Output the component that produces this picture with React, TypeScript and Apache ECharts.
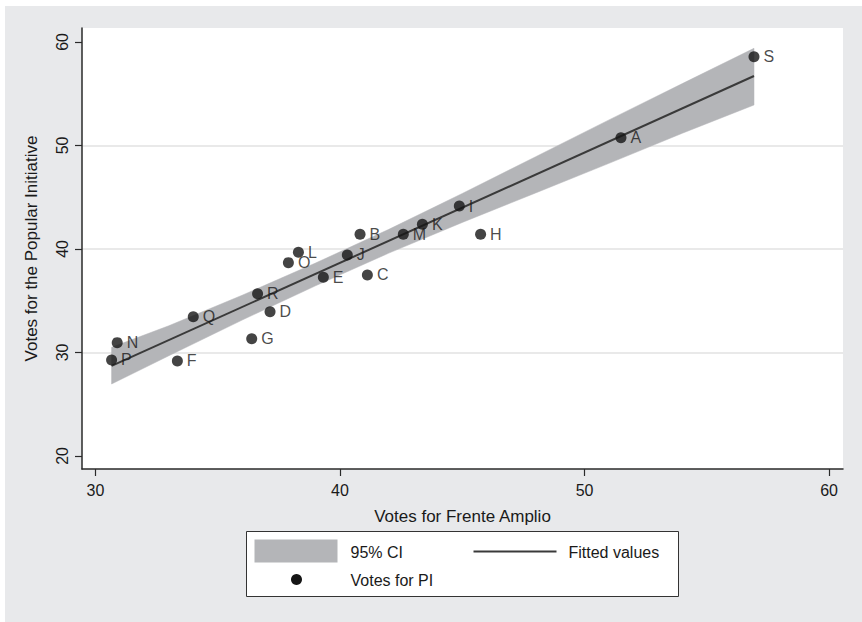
import React, { useEffect, useRef } from "react";
import * as echarts from "echarts";

// Scatter points: region labels and their values
const pointNames = ["S", "A", "N", "P", "F", "Q", "G", "R", "D", "O", "L", "J", "E", "C", "B", "M", "K", "I", "H"];
const votesFA = [56.93, 51.49, 30.89, 30.66, 33.35, 34.0, 36.39, 36.63, 37.14, 37.89, 38.3, 40.3, 39.32, 41.12, 40.82, 42.59, 43.37, 44.88, 45.75];
const votesPI = [58.58, 50.75, 30.95, 29.28, 29.18, 33.46, 31.33, 35.68, 33.94, 38.68, 39.68, 39.42, 37.27, 37.49, 41.42, 41.42, 42.38, 44.15, 41.42];

// Fitted line end points
const fitX = [30.66, 56.93];
const fitY = [28.7, 56.71];

// 95% confidence band
const ciX = [30.66, 33, 36, 39, 42, 45, 48, 51, 54, 56.93];
const ciUpper = [30.5, 32.58, 35.53, 38.64, 41.9, 45.36, 48.91, 52.47, 55.98, 59.39];
const ciLower = [26.95, 29.68, 33.13, 36.44, 39.6, 42.56, 45.41, 48.27, 51.18, 53.91];

// Tick labels
const xTicks = [30, 40, 50, 60];
const yTicks = [20, 30, 40, 50, 60];

const FONT = "'Liberation Sans', Arial, Helvetica, sans-serif";
const TEXT = "#1a1a1a";
const BAND = "#b4b5b8";

export default function App() {
  const ref = useRef<HTMLDivElement>(null);

  useEffect(() => {
    if (!ref.current) return;
    const chart = echarts.init(ref.current, undefined, { renderer: "svg" });
    const option: any = {
      animation: false,
      backgroundColor: "#e8e9eb",
      textStyle: { fontFamily: FONT },
      grid: {
        left: 77,
        top: 22,
        width: 761,
        height: 441,
        show: true,
        backgroundColor: "#ffffff",
        borderWidth: 0,
      },
      xAxis: {
        type: "value",
        min: 29.45,
        max: 60.57,
        name: "Votes for Frente Amplio",
        nameLocation: "middle",
        nameGap: 39,
        nameTextStyle: { fontSize: 17, color: TEXT, fontFamily: FONT },
        axisLine: { show: true, onZero: false, lineStyle: { color: "#2a2a2a", width: 1.5 } },
        axisTick: { show: true, length: 7, customValues: xTicks, lineStyle: { color: "#2a2a2a", width: 1.2 } },
        axisLabel: { customValues: xTicks, fontSize: 16, color: TEXT, margin: 13, fontFamily: FONT },
        splitLine: { show: false },
      },
      yAxis: {
        type: "value",
        min: 18.74,
        max: 61.35,
        name: "Votes for the Popular Initiative",
        nameLocation: "middle",
        nameGap: 42,
        nameTextStyle: { fontSize: 17, color: TEXT, fontFamily: FONT },
        axisLine: { show: true, onZero: false, lineStyle: { color: "#2a2a2a", width: 1.5 } },
        axisTick: { show: true, length: 7, customValues: yTicks, lineStyle: { color: "#2a2a2a", width: 1.2 } },
        axisLabel: { customValues: yTicks, fontSize: 16, color: TEXT, margin: 12, rotate: 90, fontFamily: FONT },
        splitLine: {
          show: true,
          showMinLine: false,
          showMaxLine: false,
          lineStyle: { color: "#e9e9e9", width: 2 },
        },
      },
      series: [
        {
          type: "custom",
          name: "95% CI",
          z: 1,
          silent: true,
          data: ciX.map((x, i) => [x, ciLower[i], ciUpper[i]]),
          encode: { x: 0, y: [1, 2] },
          renderItem: (params: any, api: any) => {
            if (params.dataIndex !== 0) return null;
            const pts: number[][] = [];
            for (let i = 0; i < ciX.length; i++) pts.push(api.coord([ciX[i], ciUpper[i]]));
            for (let i = ciX.length - 1; i >= 0; i--) pts.push(api.coord([ciX[i], ciLower[i]]));
            return {
              type: "polygon",
              shape: { points: pts },
              style: { fill: BAND, stroke: BAND, lineWidth: 0.5 },
            };
          },
        },
        {
          type: "line",
          name: "Fitted values",
          z: 2,
          silent: true,
          showSymbol: false,
          data: fitX.map((x, i) => [x, fitY[i]]),
          lineStyle: { color: "#3a3a3a", width: 2 },
        },
        {
          type: "scatter",
          name: "Votes for PI",
          z: 3,
          symbolSize: 11,
          itemStyle: { color: "#151515" },
          data: pointNames.map((n, i) => ({ name: n, value: [votesFA[i], votesPI[i]] })),
          label: {
            show: true,
            position: "right",
            distance: 4,
            formatter: "{b}",
            fontSize: 16,
            color: TEXT,
            fontFamily: FONT,
          },
        },
      ],
      graphic: [
        {
          type: "group",
          left: 241,
          top: 525,
          children: [
            {
              type: "rect",
              shape: { x: 0, y: 0, width: 432, height: 65 },
              style: { fill: "#ffffff", stroke: "#333333", lineWidth: 1 },
            },
            {
              type: "rect",
              shape: { x: 8, y: 8, width: 83, height: 23 },
              style: { fill: BAND },
            },
            {
              type: "text",
              x: 104,
              y: 20.5,
              style: { text: "95% CI", font: `16px ${FONT}`, fill: TEXT, textVerticalAlign: "middle" },
            },
            {
              type: "line",
              shape: { x1: 227, y1: 20, x2: 310, y2: 20 },
              style: { stroke: "#3a3a3a", lineWidth: 2 },
            },
            {
              type: "text",
              x: 322,
              y: 20.5,
              style: { text: "Fitted values", font: `16px ${FONT}`, fill: TEXT, textVerticalAlign: "middle" },
            },
            {
              type: "circle",
              shape: { cx: 50, cy: 48, r: 5.5 },
              style: { fill: "#151515" },
            },
            {
              type: "text",
              x: 104,
              y: 48.5,
              style: { text: "Votes for PI", font: `16px ${FONT}`, fill: TEXT, textVerticalAlign: "middle" },
            },
          ],
        },
      ],
    };
    chart.setOption(option);
    return () => chart.dispose();
  }, []);

  return (
    <div style={{ position: "absolute", left: 0, top: 0, width: 862, height: 622, background: "#ffffff", overflow: "hidden" }}>
      <div ref={ref} style={{ position: "absolute", left: 5, top: 6, width: 857, height: 616 }} />
    </div>
  );
}
